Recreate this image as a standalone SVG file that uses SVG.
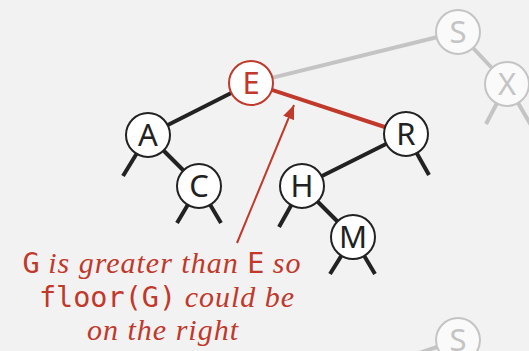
<svg xmlns="http://www.w3.org/2000/svg" width="529" height="351" viewBox="0 0 529 351">
<defs>
<style>
.bg{fill:#f2f2f2}
.e{stroke:#222;stroke-width:4;fill:none;stroke-linecap:butt}
.eg{stroke:#c4c4c4;stroke-width:4;fill:none}
.er{stroke:#c0392b;stroke-width:4;fill:none}
.n{fill:#fff;stroke:#222;stroke-width:2}
.ng{fill:#fafafa;stroke:#c4c4c4;stroke-width:2}
.nr{fill:#fff;stroke:#c0392b;stroke-width:2}
.t{font-family:"Noto Sans","DejaVu Sans",sans-serif;font-size:31px;fill:#222;text-anchor:middle}
.tg{fill:#c4c4c4}
.tr{fill:#c0392b}
.cap{font-family:"Liberation Serif",serif;font-style:italic;font-size:30px;fill:#c0392b;text-anchor:middle;letter-spacing:1px}
.mono{font-family:"DejaVu Sans Mono","Liberation Mono",monospace;font-style:normal;font-size:28.5px;letter-spacing:0}
</style>
<marker id="ah2" viewBox="0 0 12 10" refX="12" refY="5" markerWidth="14" markerHeight="12" markerUnits="userSpaceOnUse" orient="auto">
<path d="M0,0 L12,5 L0,10 z" fill="#c0392b"/>
</marker>
</defs>
<rect class="bg" x="0" y="0" width="529" height="351"/>
<g id="connectors">
<line class="eg" x1="251" y1="83" x2="458" y2="32"/>
<line class="eg" x1="458" y1="32" x2="507" y2="84"/>
<line class="eg" x1="507" y1="84" x2="486" y2="124"/>
<line class="eg" x1="507" y1="84" x2="532" y2="127"/>
<line class="eg" x1="458" y1="340" x2="410" y2="356"/>
<line class="e" x1="251" y1="83" x2="148" y2="135"/>
<line class="e" x1="148" y1="135" x2="123" y2="176"/>
<line class="e" x1="148" y1="135" x2="199" y2="186"/>
<line class="e" x1="199" y1="186" x2="177" y2="223"/>
<line class="e" x1="199" y1="186" x2="221" y2="223"/>
<line class="er" x1="251" y1="83" x2="406" y2="134"/>
<line class="e" x1="406" y1="134" x2="302" y2="186"/>
<line class="e" x1="406" y1="134" x2="429" y2="175"/>
<line class="e" x1="302" y1="186" x2="279" y2="227"/>
<line class="e" x1="302" y1="186" x2="353" y2="237"/>
<line class="e" x1="353" y1="237" x2="330" y2="274"/>
<line class="e" x1="353" y1="237" x2="375" y2="274"/>
<line x1="237" y1="243" x2="294" y2="105" stroke="#c0392b" stroke-width="2" marker-end="url(#ah2)"/>
</g>
<g id="node-S"><circle class="ng" cx="458" cy="32" r="22"/><text class="t tg" x="458" y="43">S</text></g>
<g id="node-X"><circle class="ng" cx="507" cy="84" r="22"/><text class="t tg" x="507" y="95">X</text></g>
<g id="node-S2"><circle class="ng" cx="458" cy="340" r="22"/><text class="t tg" x="458" y="351">S</text></g>
<g id="node-E"><circle class="nr" cx="251" cy="83" r="22"/><text class="t tr" x="251" y="94">E</text></g>
<g id="node-A"><circle class="n" cx="148" cy="135" r="22"/><text class="t" x="148" y="146">A</text></g>
<g id="node-C"><circle class="n" cx="199" cy="186" r="22"/><text class="t" x="199" y="197">C</text></g>
<g id="node-R"><circle class="n" cx="406" cy="134" r="22"/><text class="t" x="406" y="145">R</text></g>
<g id="node-H"><circle class="n" cx="302" cy="186" r="22"/><text class="t" x="302" y="197">H</text></g>
<g id="node-M"><circle class="n" cx="353" cy="237" r="22"/><text class="t" x="353" y="248">M</text></g>
<g id="caption">
<text class="cap" x="162" y="273"><tspan class="mono">G</tspan> is greater than <tspan class="mono">E</tspan> so</text>
<text class="cap" x="167" y="307"><tspan class="mono">floor(G)</tspan> could be</text>
<text class="cap" x="163" y="340">on the right</text>
</g>
</svg>
